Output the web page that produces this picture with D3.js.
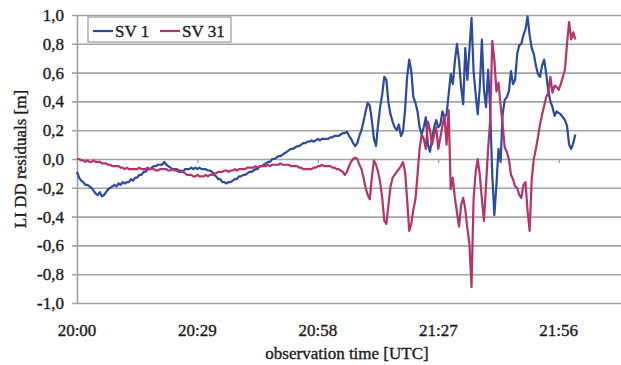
<!DOCTYPE html>
<html>
<head>
<meta charset="utf-8">
<script src="https://cdn.jsdelivr.net/npm/d3@7"></script>
<style>
  html, body { margin: 0; padding: 0; background: #fff; }
  svg { display: block; }
  text { font-family: "Liberation Serif", "Times New Roman", serif; fill: #1a1a1a; stroke: #1a1a1a; stroke-width: 0.35px; }
</style>
</head>
<body>
<svg id="chart" width="621" height="365"></svg>
<script>
// L1 double-difference residuals, sampled every half minute from 20:00 UTC
const sampleStepMin = 0.5;

const sv1 = [
  -0.09,-0.13,-0.15,-0.16,-0.18,-0.18,-0.19,-0.20,-0.22,-0.24,
  -0.25,-0.23,-0.26,-0.25,-0.23,-0.21,-0.20,-0.19,-0.18,-0.19,
  -0.17,-0.18,-0.16,-0.17,-0.16,-0.16,-0.14,-0.15,-0.13,-0.13,
  -0.11,-0.11,-0.09,-0.09,-0.07,-0.07,-0.06,-0.05,-0.05,-0.04,
  -0.04,-0.04,-0.02,-0.04,-0.05,-0.06,-0.07,-0.07,-0.07,-0.08,
  -0.08,-0.09,-0.07,-0.07,-0.07,-0.06,-0.07,-0.06,-0.07,-0.06,
  -0.07,-0.07,-0.07,-0.08,-0.08,-0.09,-0.11,-0.12,-0.14,-0.14,
  -0.16,-0.16,-0.17,-0.16,-0.16,-0.15,-0.14,-0.14,-0.12,-0.12,
  -0.11,-0.11,-0.10,-0.09,-0.09,-0.08,-0.07,-0.07,-0.05,-0.05,
  -0.04,-0.03,-0.02,-0.02,0.00,0.00,0.01,0.02,0.02,0.03,
  0.04,0.05,0.06,0.07,0.07,0.08,0.09,0.09,0.10,0.11,
  0.11,0.12,0.12,0.13,0.12,0.13,0.14,0.13,0.14,0.14,
  0.14,0.14,0.15,0.15,0.16,0.16,0.16,0.17,0.18,0.18,
  0.19,0.16,0.14,0.11,0.09,0.11,0.16,0.20,0.26,0.33,
  0.39,0.37,0.27,0.14,0.09,0.24,0.36,0.45,0.57,0.55,
  0.39,0.31,0.26,0.22,0.20,0.24,0.16,0.19,0.34,0.57,
  0.69,0.61,0.43,0.39,0.33,0.22,0.17,0.22,0.29,0.10,
  0.05,0.14,0.22,0.27,0.22,0.24,0.33,0.29,0.31,0.45,
  0.59,0.52,0.68,0.80,0.68,0.50,0.38,0.77,0.55,0.76,
  0.98,0.61,0.45,0.31,0.50,0.83,0.48,0.36,0.62,0.34,
  -0.11,-0.39,-0.18,0.07,-0.02,0.31,0.41,0.43,0.47,0.61,
  0.52,0.55,0.73,0.79,0.80,0.86,0.90,0.99,0.86,0.77,
  0.73,0.65,0.59,0.57,0.65,0.69,0.59,0.47,0.40,0.36,
  0.30,0.33,0.32,0.31,0.29,0.27,0.23,0.10,0.07,0.11,0.17
];

const sv31 = [
  0.00,0.00,-0.01,-0.01,-0.02,-0.01,-0.02,-0.02,-0.01,-0.02,
  -0.02,-0.02,-0.03,-0.03,-0.03,-0.04,-0.04,-0.05,-0.05,-0.05,
  -0.05,-0.06,-0.06,-0.07,-0.06,-0.07,-0.07,-0.07,-0.07,-0.07,
  -0.06,-0.07,-0.07,-0.07,-0.06,-0.07,-0.07,-0.07,-0.08,-0.08,
  -0.07,-0.07,-0.07,-0.07,-0.08,-0.08,-0.07,-0.08,-0.08,-0.09,
  -0.09,-0.09,-0.10,-0.11,-0.11,-0.11,-0.12,-0.12,-0.11,-0.12,
  -0.12,-0.12,-0.11,-0.12,-0.11,-0.11,-0.10,-0.10,-0.09,-0.09,
  -0.09,-0.08,-0.08,-0.09,-0.08,-0.08,-0.07,-0.08,-0.07,-0.07,
  -0.07,-0.07,-0.06,-0.06,-0.06,-0.06,-0.05,-0.06,-0.05,-0.05,
  -0.05,-0.05,-0.04,-0.05,-0.04,-0.04,-0.04,-0.04,-0.03,-0.04,
  -0.04,-0.04,-0.04,-0.05,-0.05,-0.05,-0.05,-0.06,-0.06,-0.07,
  -0.07,-0.07,-0.07,-0.07,-0.06,-0.06,-0.05,-0.05,-0.04,-0.05,
  -0.05,-0.05,-0.05,-0.06,-0.06,-0.07,-0.07,-0.08,-0.09,-0.11,
  -0.09,-0.05,-0.02,0.00,0.01,0.00,-0.04,-0.07,-0.13,-0.20,
  -0.25,-0.28,-0.13,-0.01,-0.04,-0.09,-0.16,-0.27,-0.43,-0.45,
  -0.32,-0.19,-0.13,-0.11,-0.09,-0.07,-0.05,-0.02,-0.09,-0.28,
  -0.50,-0.45,-0.35,-0.28,-0.11,0.07,0.17,0.14,0.07,0.26,
  0.20,0.10,0.17,0.22,0.07,0.15,0.23,0.30,0.10,0.34,
  -0.21,-0.13,-0.27,-0.37,-0.47,-0.32,-0.27,-0.35,-0.48,-0.59,
  -0.89,-0.28,-0.09,0.00,-0.11,-0.28,-0.43,-0.18,0.07,0.27,
  0.82,0.69,0.47,0.53,0.38,0.24,0.08,0.05,0.00,-0.11,
  -0.14,-0.19,-0.20,-0.25,-0.27,-0.18,-0.16,-0.36,-0.50,-0.14,
  0.00,0.07,0.15,0.24,0.31,0.37,0.43,0.46,0.57,0.46,
  0.51,0.50,0.48,0.52,0.57,0.62,0.80,0.95,0.83,0.88,0.83
];

const seriesNames = ["SV 1", "SV 31"];
const seriesColors = ["#2c4a9a", "#b3336b"];

const xTickMinutes = [0, 29, 58, 87, 116];
const xTickLabels = ["20:00", "20:29", "20:58", "21:27", "21:56"];
const yTickValues = [-1.0, -0.8, -0.6, -0.4, -0.2, 0.0, 0.2, 0.4, 0.6, 0.8, 1.0];

const svg = d3.select("#chart");
const plot = { left: 77, right: 621, top: 15, bottom: 303 };

const x = d3.scaleLinear().domain([0, 131]).range([plot.left, plot.right]);
const y = d3.scaleLinear().domain([-1, 1]).range([plot.bottom, plot.top]);

const commaFormat = d3.formatLocale({
  decimal: ",", thousands: ".", grouping: [3], currency: ["", ""], minus: "-"
}).format(".1f");

// horizontal gridlines with y tick labels
const yAxis = d3.axisLeft(y)
  .tickValues(yTickValues)
  .tickSize(-(plot.right - plot.left) - 5)
  .tickSizeOuter(0)
  .tickPadding(8)
  .tickFormat(commaFormat);

const gy = svg.append("g")
  .attr("transform", `translate(${plot.left},0)`)
  .call(yAxis);
gy.select(".domain").attr("stroke", "#9a9a9a").attr("stroke-width", 1.5);
gy.selectAll(".tick line")
  .attr("x1", -5)
  .attr("x2", plot.right - plot.left)
  .attr("stroke", "#a4a4a4").attr("stroke-width", 1.6);
gy.selectAll(".tick text")
  .attr("x", -13)
  .style("font-size", "17px").attr("fill", "#1a1a1a");

// category axis: tick marks on the zero line, labels below the plot
const gx = svg.append("g")
  .attr("transform", `translate(0,${y(0)})`)
  .call(d3.axisBottom(x).tickValues(xTickMinutes).tickSize(4).tickSizeOuter(0).tickFormat(() => ""));
gx.select(".domain").remove();
gx.selectAll(".tick line").attr("stroke", "#9a9a9a").attr("stroke-width", 1.2);

svg.append("g").selectAll("text")
  .data(xTickMinutes)
  .join("text")
  .attr("x", d => x(d))
  .attr("y", 336)
  .attr("text-anchor", "middle")
  .style("font-size", "17px")
  .text((d, i) => xTickLabels[i]);

// axis titles
svg.append("text")
  .attr("x", (plot.left + 617) / 2)
  .attr("y", 359)
  .attr("text-anchor", "middle")
  .style("font-size", "17px")
  .text("observation time [UTC]");

svg.append("text")
  .attr("transform", `translate(26,${y(0)}) rotate(-90)`)
  .attr("text-anchor", "middle")
  .style("font-size", "17px")
  .text("LI DD residuals [m]");

// residual traces
const line = d3.line()
  .x((d, i) => x(i * sampleStepMin))
  .y(d => y(d));

[sv1, sv31].forEach((series, k) => {
  svg.append("path")
    .datum(series)
    .attr("fill", "none")
    .attr("stroke", seriesColors[k])
    .attr("stroke-width", 2.2)
    .attr("stroke-linejoin", "round")
    .attr("d", line);
});

// legend
const legend = svg.append("g").attr("transform", "translate(88,17)");
legend.append("rect")
  .attr("width", 143).attr("height", 25)
  .attr("fill", "#fff").attr("stroke", "#9a9a9a").attr("stroke-width", 1.2);
const legendX = [5, 72];
seriesNames.forEach((name, k) => {
  legend.append("line")
    .attr("x1", legendX[k]).attr("x2", legendX[k] + 20)
    .attr("y1", 14).attr("y2", 14)
    .attr("stroke", seriesColors[k]).attr("stroke-width", 2.2);
  legend.append("text")
    .attr("x", legendX[k] + 22).attr("y", 20)
    .style("font-size", "17px")
    .text(name);
});
</script>
</body>
</html>
